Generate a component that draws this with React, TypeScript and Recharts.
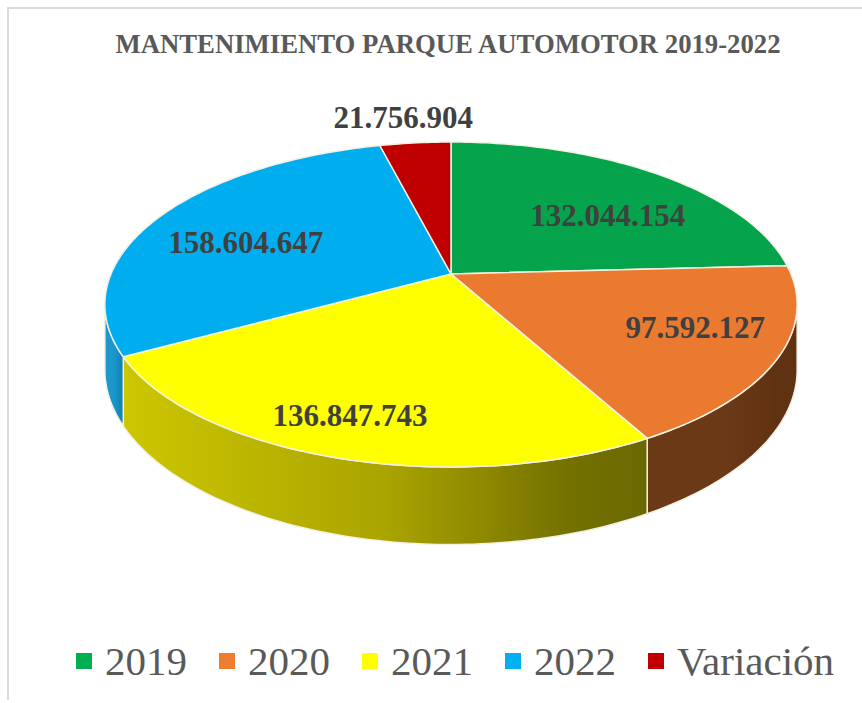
import React from 'react';
import { PieChart, Pie } from 'recharts';

// ---- data ----
const categories = ['2019', '2020', '2021', '2022', 'Variación'];
const values = [132044154, 97592127, 136847743, 158604647, 21756904];
const title = 'MANTENIMIENTO PARQUE AUTOMOTOR 2019-2022';

// ---- styles ----
const topColors = ['#05a34c', '#ea7a30', '#ffff00', '#00aeef', '#c00000'];
const legendColors = ['#00b050', '#ed7d31', '#ffff00', '#00b0f0', '#c00000'];
const sideColors = [
  ['#00803c', '#005528'],
  ['#6c3917', '#613211'],
  ['#cdc600', '#6a6800'],
  ['#1c97cc', '#1285b8'],
  ['#900000', '#600000'],
];
// label nudges (px) relative to projected anchor
const LABEL_NUDGE = [
  [17, 9],
  [39, 1],
  [-31, 31],
  [-12, 7],
  [-12, -25.5],
];

const K = 0.1877; // perspective
const YR = 0.461; // vertical squash
const DEPTH = 63; // slab thickness
const SEP = '#f3f1e4';

const data = categories.map((name, i) => ({ name, value: values[i] }));

const fmt = (v: number) => String(v).replace(/\B(?=(\d{3})+(?!\d))/g, '.');

function proj(cx: number, cy: number, R: number, phiDeg: number, rho: number, drop = 0): [number, number] {
  const p = (phiDeg * Math.PI) / 180;
  const X = rho * Math.cos(p);
  const Z = rho * Math.sin(p);
  const w = 1 + K * Z;
  return [cx + (R * X) / w, cy - (R * YR * Z) / w + drop / w];
}

function arcPts(cx: number, cy: number, R: number, a: number, b: number, drop = 0) {
  const n = Math.max(2, Math.ceil(Math.abs(b - a)) + 1);
  const pts: [number, number][] = [];
  for (let i = 0; i < n; i++) {
    const t = a + ((b - a) * i) / (n - 1);
    pts.push(proj(cx, cy, R, t, 1, drop));
  }
  return pts;
}

const toPath = (pts: [number, number][]) => pts.map((p, i) => `${i ? 'L' : 'M'}${p[0].toFixed(2)},${p[1].toFixed(2)}`).join(' ');

const SIL = (Math.asin(K) * 180) / Math.PI; // silhouette offset
const VIS_HI = -SIL;
const VIS_LO = -180 + SIL;

const renderGeometry = (props: any) => {
  const { cx, cy, outerRadius, startAngle, endAngle, index } = props;
  const R = outerRadius;
  const lo0 = Math.min(startAngle, endAngle);
  const hi0 = Math.max(startAngle, endAngle);
  const sides: React.ReactNode[] = [];
  [-360, 0, 360].forEach((shift) => {
    const lo = Math.max(lo0, VIS_LO + shift);
    const hi = Math.min(hi0, VIS_HI + shift);
    if (hi > lo) {
      const top = arcPts(cx, cy, R, hi, lo, 0);
      const bot = arcPts(cx, cy, R, lo, hi, DEPTH);
      const d = toPath([...top, ...bot]) + ' Z';
      sides.push(
        <path key={`s${shift}`} d={d} fill={`url(#side${index})`} stroke={SEP} strokeWidth={1.5} strokeLinejoin="round" />
      );
    }
  });
  const topArc = arcPts(cx, cy, R, startAngle, endAngle, 0);
  const topD = `M${cx},${cy} ` + toPath(topArc).replace(/^M/, 'L') + ' Z';
  return (
    <g key={`geo${index}`}>
      <defs>
        <linearGradient id={`side${index}`} x1="0" y1="0" x2="1" y2="0">
          <stop offset="0" stopColor={sideColors[index][0]} />
          <stop offset="0.5" stopColor={index === 2 ? '#aaa400' : sideColors[index][0]} />
          <stop offset="0.85" stopColor={index === 2 ? '#747100' : sideColors[index][1]} />
          <stop offset="1" stopColor={sideColors[index][1]} />
        </linearGradient>
      </defs>
      {sides}
      <path d={topD} fill={topColors[index]} stroke={SEP} strokeWidth={1.5} strokeLinejoin="round" />
    </g>
  );
};

const renderText = (props: any) => {
  const { cx, cy, outerRadius, midAngle, index, value, percent } = props;
  const outside = percent < 0.05;
  const [x, y] = proj(cx, cy, outerRadius, midAngle, outside ? 1 : 0.65, 0);
  const [dx, dy] = LABEL_NUDGE[index];
  return (
    <text
      key={`t${index}`}
      x={x + dx}
      y={y + dy + 10.5}
      textAnchor="middle"
      fontFamily="'Liberation Serif', 'Times New Roman', serif"
      fontWeight="bold"
      fontSize={31}
      fill="#404040"
    >
      {fmt(value)}
    </text>
  );
};

export default function App() {
  return (
    <div style={{ position: 'absolute', left: 0, top: 0, width: 862, height: 703, overflow: 'hidden', background: '#ffffff' }}>
      <div
        style={{
          position: 'absolute',
          left: 7,
          top: 7,
          width: 900,
          height: 693,
          borderLeft: '2px solid #dcdcdc',
          borderTop: '2px solid #dcdcdc',
          boxSizing: 'border-box',
        }}
      />
      <svg width={862} height={80} style={{ position: 'absolute', left: 0, top: 0 }}>
        <text
          x={448}
          y={53}
          textAnchor="middle"
          fontFamily="'Liberation Serif', 'Times New Roman', serif"
          fontWeight="bold"
          fontSize={28}
          fill="#595959"
          textLength={665}
          lengthAdjust="spacingAndGlyphs"
        >
          {title}
        </text>
      </svg>
      <div style={{ position: 'absolute', left: 0, top: 0 }}>
        <PieChart width={862} height={703} margin={{ top: 0, right: 0, bottom: 0, left: 0 }}>
          <Pie
            data={data}
            dataKey="value"
            nameKey="name"
            cx={451}
            cy={274}
            outerRadius={340}
            startAngle={90}
            endAngle={-270}
            fill="transparent"
            stroke="none"
            isAnimationActive={false}
            labelLine={false}
            label={renderGeometry}
          />
          <Pie
            data={data}
            dataKey="value"
            nameKey="name"
            cx={451}
            cy={274}
            outerRadius={340}
            startAngle={90}
            endAngle={-270}
            fill="transparent"
            stroke="none"
            isAnimationActive={false}
            labelLine={false}
            label={renderText}
          />
        </PieChart>
      </div>
      <div
        style={{
          position: 'absolute',
          left: 76,
          top: 641,
          display: 'flex',
          alignItems: 'flex-start',
          fontFamily: "'Liberation Serif', 'Times New Roman', serif",
          fontSize: 41,
          lineHeight: '41px',
          color: '#595959',
          whiteSpace: 'nowrap',
        }}
      >
        {categories.map((c, i) => (
          <div key={c} style={{ display: 'flex', alignItems: 'flex-start', marginRight: i < categories.length - 1 ? 32 : 0 }}>
            <div style={{ width: 16, height: 16, marginTop: 12, marginRight: 13, background: legendColors[i] }} />
            <span>{c}</span>
          </div>
        ))}
      </div>
    </div>
  );
}
